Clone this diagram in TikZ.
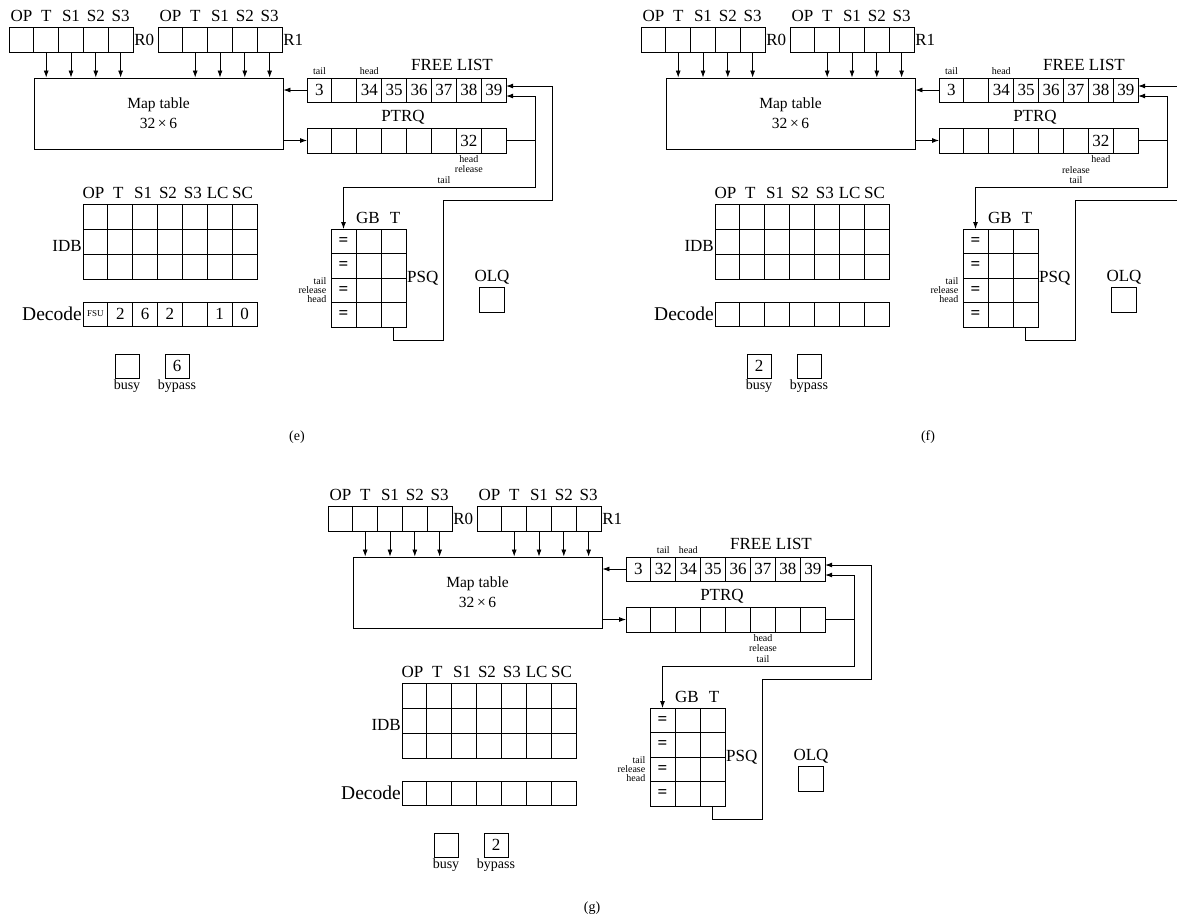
\documentclass[tikz,border=0pt]{standalone}
\usepackage{fontspec}
\setmainfont{Liberation Serif}
\usetikzlibrary{positioning,arrows.meta}

\tikzset{
  cell/.style={draw, line width=0.9pt, minimum width=24.9pt, minimum height=24.5pt,
    inner sep=0pt, outer sep=0pt, font=\fontsize{17}{17}\selectfont},
  lbl/.style={font=\fontsize{17}{17}\selectfont, inner sep=1pt},
  lblsmall/.style={font=\fontsize{14}{14}\selectfont, inner sep=1pt},
  note/.style={font=\fontsize{10}{9}\selectfont, inner sep=0.5pt},
  arr/.style={line width=0.8pt, -{Latex[length=7pt,width=5pt]}},
  wire/.style={line width=0.8pt},
}

\begin{document}
\begin{tikzpicture}[x=1pt,y=-1pt]
  \useasboundingbox (0,0) rectangle (1177,922);
  \clip (0,0) rectangle (1177,922);

  % --- one snapshot of the rename stage ---
  % #1 free list, #2 PTRQ, #3 decode, #4 busy, #5 bypass
  \def\snapshot#1#2#3#4#5{%
    % --- registers R0 and R1 ---
    \foreach \r/\x in {0/9,1/158} {
      \foreach \f [count=\i] in {OP,T,S1,S2,S3} {
        \node[cell] (R\r-\i) at ({\x+24.8*(\i-0.5)},40) {};
        \node[lbl] (R\r-f\i) at ({\x+24.8*(\i-0.5)},16) {\f};
      }
      \node[lbl, anchor=west] (R\r-name) at (R\r-5.east) {R\r};
    }

    % --- map table ---
    \node[draw, line width=0.9pt, minimum width=249pt, minimum height=71pt,
      align=center, font=\fontsize{15.5}{20}\selectfont] (map) at (158.5,113.5)
      {Map table\\32\,×\,6};
    \foreach \r in {0,1}
      \foreach \i in {2,...,5}
        \draw[arr] (R\r-\i.south) -- (R\r-\i.south |- map.north);

    % --- free list and PTRQ ---
    \foreach \v [count=\i] in {#1}
      \node[cell, minimum height=24pt] (FL-\i) at ({307+24.9*(\i-0.5)},90) {\v};
    \node[lbl] (FLname) at (452,65) {FREE LIST};
    \foreach \v [count=\i] in {#2}
      \node[cell, minimum height=25pt] (PQ-\i) at ({307+24.9*(\i-0.5)},140.5) {\v};
    \node[lbl] (PQname) at (403,117) {PTRQ};
    \draw[arr] (FL-1.west) -- (FL-1.west -| map.east);
    \draw[arr] (map.east |- PQ-1.west) -- (PQ-1.west);

    % --- PSQ ---
    \foreach \r in {1,...,4}
      \foreach \c in {1,2,3}
        \node[cell, minimum width=25pt] (PS-\r-\c) at ({331+25*(\c-0.5)},{229+24.5*(\r-0.5)})
          {\ifnum\c=1 \textbf{=}\fi};
    \node[lbl] (GB) at (368,218) {GB};
    \node[lbl] (GBT) at (395,218) {T};
    \node[lbl, anchor=west] (PSQname) at (PS-2-3.south east) {PSQ};
    \node[note, align=right, anchor=east, xshift=-4pt] (PSnote) at (PS-3-1.west)
      {tail\\release\\head};

    % --- OLQ ---
    \node[cell, minimum width=25pt, minimum height=25pt] (OLQ) at (492,299.5) {};
    \node[lbl] (OLQname) at (492,277) {OLQ};

    % --- return paths ---
    \coordinate (FLa) at ([yshift=4pt]FL-8.east);
    \coordinate (FLb) at ([yshift=-6pt]FL-8.east);
    \coordinate (j1) at (535,140.5);
    \coordinate (j2) at (535,187);
    \coordinate (k1) at (443,340);
    \coordinate (k2) at (443,200);
    \coordinate (k3) at (552,200);
    \draw[wire] (PQ-8.east) -- (j1);
    \draw[arr] (j1) |- (FLb);
    \draw[arr] (j1) -- (j2) -| (PS-1-1.north);
    \draw[arr] (PS-4-3.south) |- (k1) -- (k2) -- (k3) |- (FLa);

    % --- IDB ---
    \foreach \f [count=\c] in {OP,T,S1,S2,S3,LC,SC} {
      \node[lbl] (IDh-\c) at ({83+24.85*(\c-0.5)-2},193) {\f};
      \foreach \r in {1,2,3}
        \node[cell, minimum height=25pt] (ID-\r-\c) at ({83+24.85*(\c-0.5)},{204+25*(\r-0.5)}) {};
    }
    \node[lbl, anchor=east, yshift=-4pt] (IDname) at (ID-2-1.west) {IDB};

    % --- decode ---
    \foreach \v [count=\c] in {#3}
      \node[cell, minimum height=24pt] (DC-\c) at ({83+24.85*(\c-0.5)},314) {\v};
    \node[lbl, font=\fontsize{19.5}{19.5}\selectfont, anchor=east] (DCname) at (DC-1.west) {Decode};

    % --- busy / bypass ---
    \node[cell, minimum width=24pt, minimum height=24pt] (busy) at (127,366) {#4};
    \node[cell, minimum width=24pt, minimum height=24pt] (bypass) at (177,366) {#5};
    \node[lblsmall, below=1pt of busy] (busyname) {busy};
    \node[lblsmall, below=1pt of bypass] (bypassname) {bypass};
  }

  % --- (e) ---
  \begin{scope}[name prefix=e-]
    \snapshot{3,{},34,35,36,37,38,39}{{},{},{},{},{},{},32,{}}
      {{\fontsize{9}{9}\selectfont FSU},2,6,2,{},1,0}{}{6}
    \node[note, above=3pt of FL-1] (FLtail) {tail};
    \node[note, above=3pt of FL-3] (FLhead) {head};
    \node[note] (PQhead) at (PQ-7.south |- 0,159) {head};
    \node[note] (PQrel) at (PQ-7.south |- 0,169) {release};
    \node[note] (PQtail) at (PQ-6.south |- 0,180) {tail};
    \node[lblsmall] (cap) at (297,437) {(e)};
  \end{scope}

  % --- (f) ---
  \begin{scope}[shift={(632,0)}, name prefix=f-]
    \snapshot{3,{},34,35,36,37,38,39}{{},{},{},{},{},{},32,{}}
      {{},{},{},{},{},{},{}}{2}{}
    \node[note, above=3pt of FL-1] (FLtail) {tail};
    \node[note, above=3pt of FL-3] (FLhead) {head};
    \node[note] (PQhead) at (PQ-7.south |- 0,159) {head};
    \node[note] (PQrel) at (PQ-6.south |- 0,170) {release};
    \node[note] (PQtail) at (PQ-6.south |- 0,180) {tail};
    \node[lblsmall] (cap) at (296,437) {(f)};
  \end{scope}

  % --- (g) ---
  \begin{scope}[shift={(319,479)}, name prefix=g-]
    \snapshot{3,32,34,35,36,37,38,39}{{},{},{},{},{},{},{},{}}
      {{},{},{},{},{},{},{}}{}{2}
    \node[note, above=3pt of FL-2] (FLtail) {tail};
    \node[note, above=3pt of FL-3] (FLhead) {head};
    \node[note] (PQhead) at (PQ-6.south |- 0,159) {head};
    \node[note] (PQrel) at (PQ-6.south |- 0,169) {release};
    \node[note] (PQtail) at (PQ-6.south |- 0,180) {tail};
    \node[lblsmall] (cap) at (273,429) {(g)};
  \end{scope}
\end{tikzpicture}
\end{document}
